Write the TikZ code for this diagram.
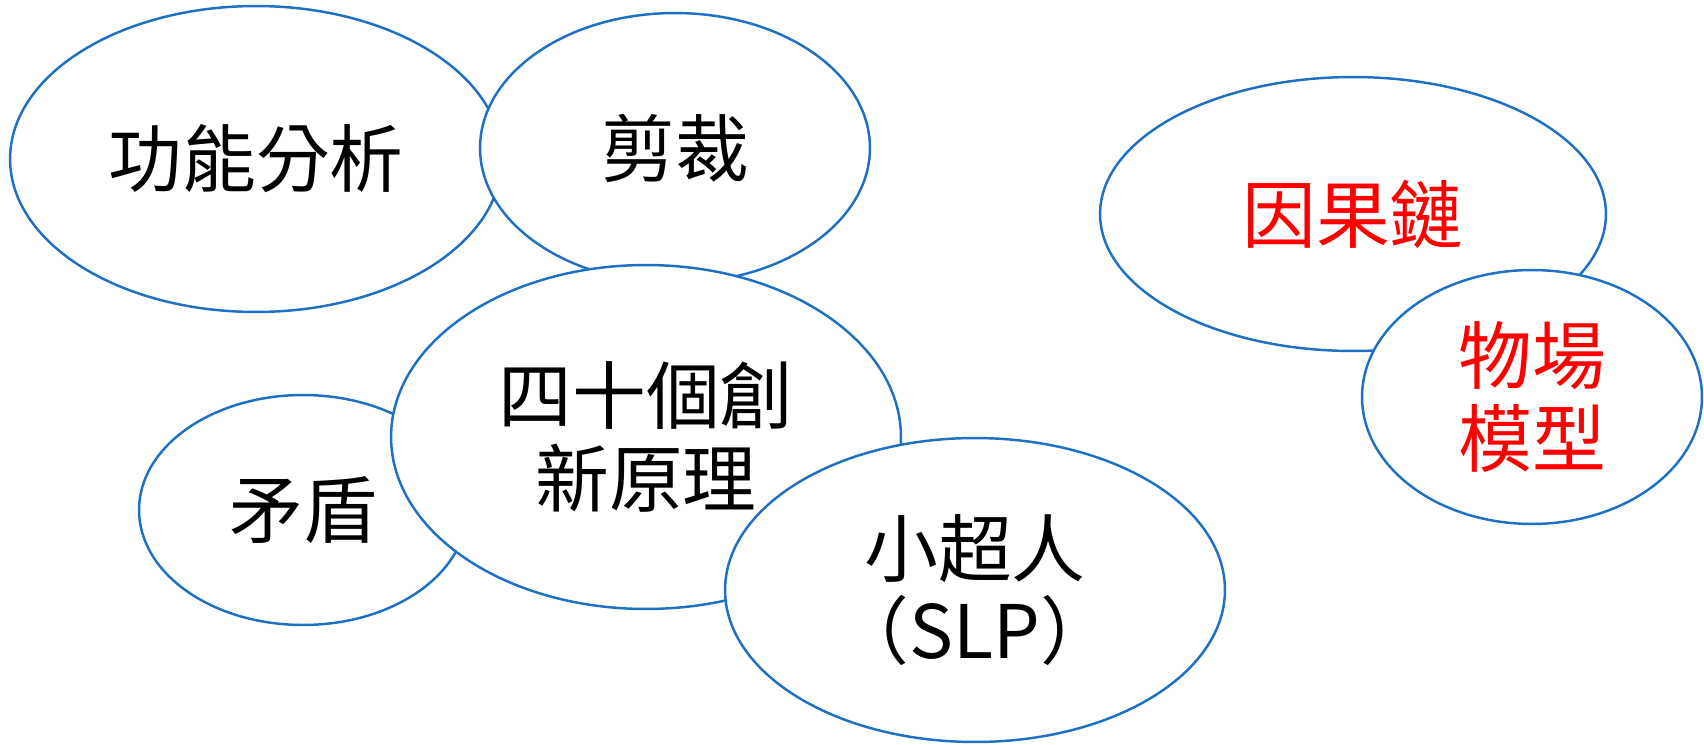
\documentclass[tikz,border=0pt]{standalone}
\usepackage{fontspec}
\setmainfont{Noto Sans CJK TC}
\usetikzlibrary{shapes.geometric}
\definecolor{bubbleblue}{RGB}{30,112,196}
\definecolor{hotred}{RGB}{255,0,0}
\tikzset{bubble/.style={ellipse,draw=bubbleblue,line width=1.4pt,fill=white,
    inner sep=0pt,align=center,font=\fontsize{42}{47}\selectfont}}

\begin{document}
\begin{tikzpicture}[x=0.02cm,y=-0.02cm]
\useasboundingbox (0,0) rectangle (1704,744);
% left group
   \node[bubble,minimum width=9.84cm,minimum height=6.12cm] (gongneng) at (256,159) {功能分析};
   \node[bubble,minimum width=7.8cm,minimum height=5.4cm] (jiancai) at (675,148) {剪裁};
   \node[bubble,minimum width=6.56cm,minimum height=4.6cm] (maodun) at (303,510) {矛盾};
   \node[bubble,minimum width=10.2cm,minimum height=6.88cm] (sishi) at (646,437) {四十個創\\新原理};
   \node[bubble,minimum width=10cm,minimum height=6.08cm] (slp) at (975,590) {小超人\\（SLP）};
% right group
\begin{scope}[text=hotred]
   \node[bubble,minimum width=10.12cm,minimum height=5.48cm] (yinguo) at (1353,214) {因果鏈};
   \node[bubble,minimum width=6.8cm,minimum height=5.08cm] (wuchang) at (1532,397) {物場\\模型};
\end{scope}
\end{tikzpicture}
\end{document}
